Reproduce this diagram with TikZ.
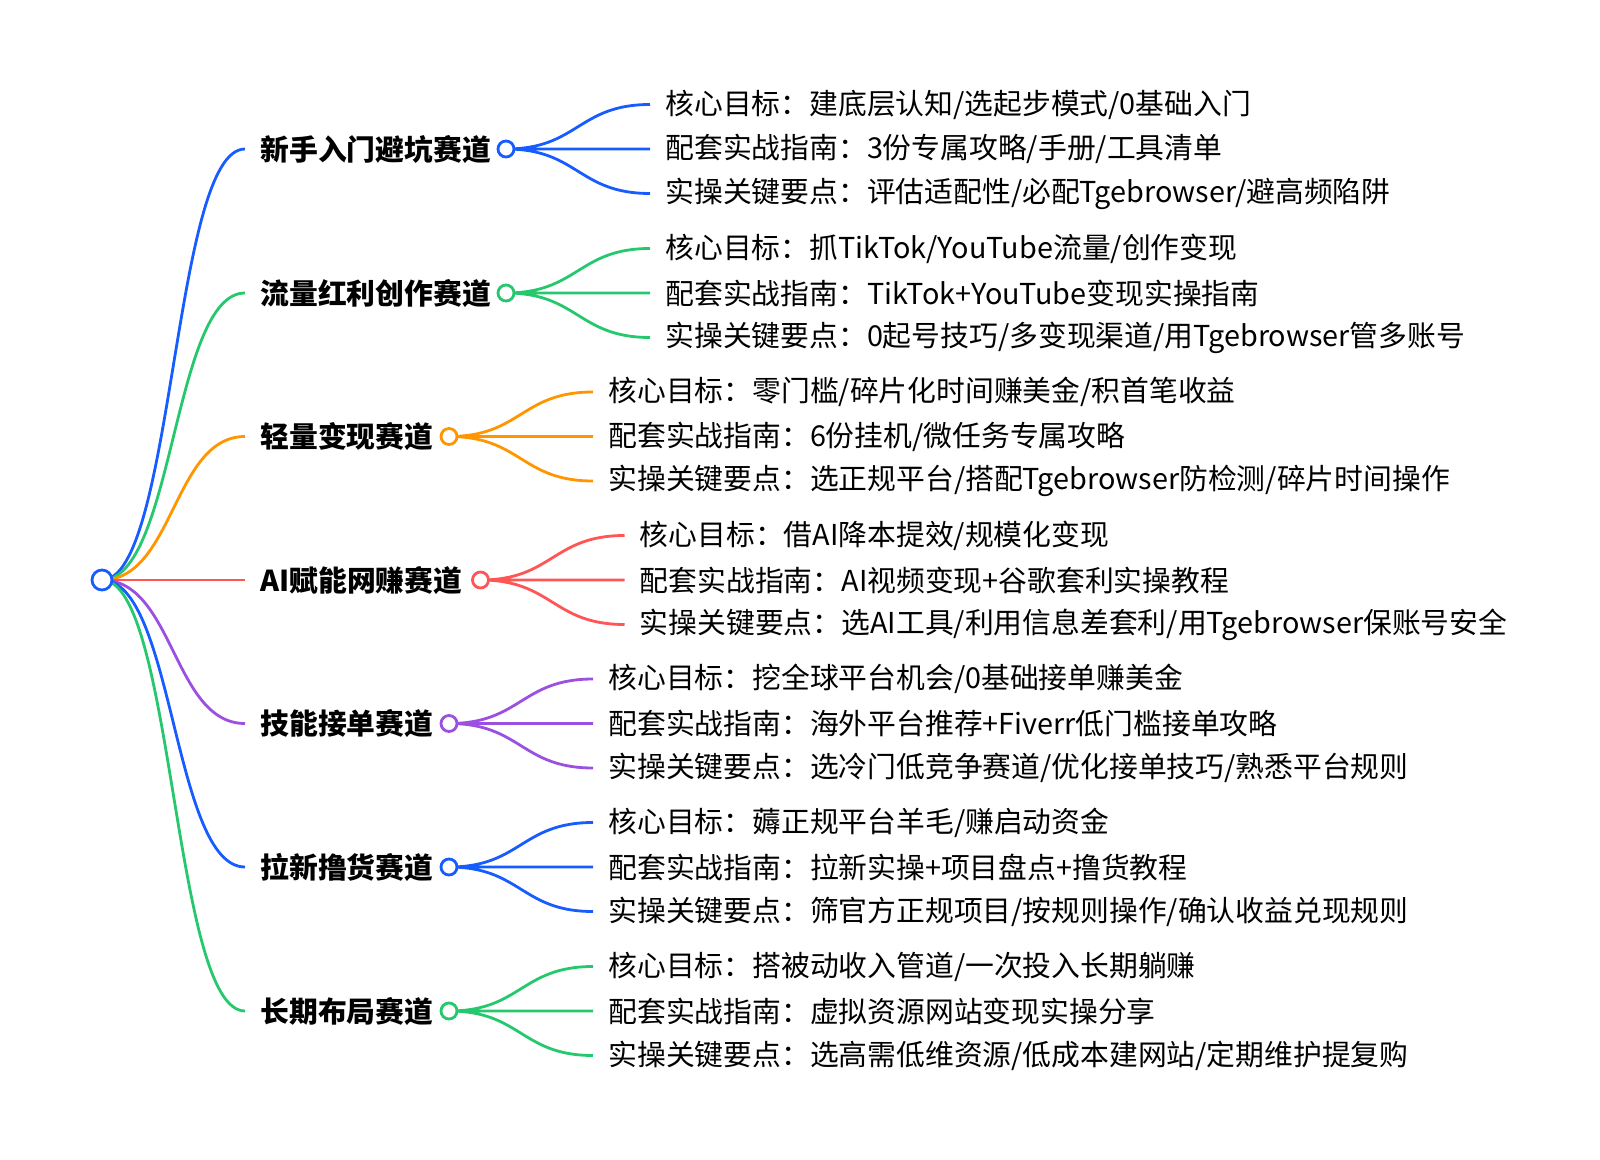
\documentclass[tikz,border=0pt]{standalone}
\usepackage{fontspec}
\setmainfont{Noto Sans CJK SC}
\usepackage{tikz}
\definecolor{mapblue}{RGB}{22,92,255}
\definecolor{mapgreen}{RGB}{38,200,110}
\definecolor{maporange}{RGB}{255,150,0}
\definecolor{mapred}{RGB}{255,85,85}
\definecolor{mappurple}{RGB}{155,80,225}
\pgfdeclarelayer{bg}
\pgfsetlayers{bg,main}

\begin{document}
\begin{tikzpicture}[x=0.5pt,y=-0.5pt,font=\fontsize{14.4pt}{17pt}\selectfont,
  track/.style={anchor=west,inner xsep=7.5pt,inner ysep=0pt,font=\fontsize{14.4pt}{17pt}\selectfont\bfseries},
  item/.style={anchor=west,inner xsep=7.5pt,inner ysep=0pt},
  dot/.style={circle,draw=#1,fill=white,line width=1.4pt,minimum size=8pt,inner sep=0pt},
  wire/.style={draw=#1,line width=1.4pt},
  link/.style={out=0,in=180,out distance=36pt,in distance=36pt}]

    \useasboundingbox (0,0) rectangle (1600,1160);

    \node (root) at (102,580)[dot=mapblue,minimum size=10pt] {};

    \node (t1) at (245,149)[track] {新手入门避坑赛道};
    \node (c1) at (506,149)[dot=mapblue] {};
    \node (l11) at (650,104.5)[item] {核心目标：建底层认知/选起步模式/0基础入门};
    \node (l12) at (650,149)[item] {配套实战指南：3份专属攻略/手册/工具清单};
    \node (l13) at (650,193.5)[item] {实操关键要点：评估适配性/必配Tgebrowser/避高频陷阱};

    \node (t2) at (245,293)[track] {流量红利创作赛道};
    \node (c2) at (506,293)[dot=mapgreen] {};
    \node (l21) at (650,248.5)[item] {核心目标：抓TikTok/YouTube流量/创作变现};
    \node (l22) at (650,293)[item] {配套实战指南：TikTok+YouTube变现实操指南};
    \node (l23) at (650,337.5)[item] {实操关键要点：0起号技巧/多变现渠道/用Tgebrowser管多账号};

    \node (t3) at (245,436.5)[track] {轻量变现赛道};
    \node (c3) at (449,436.5)[dot=maporange] {};
    \node (l31) at (593,392)[item] {核心目标：零门槛/碎片化时间赚美金/积首笔收益};
    \node (l32) at (593,436.5)[item] {配套实战指南：6份挂机/微任务专属攻略};
    \node (l33) at (593,481)[item] {实操关键要点：选正规平台/搭配Tgebrowser防检测/碎片时间操作};

    \node (t4) at (245,580)[track] {AI赋能网赚赛道};
    \node (c4) at (480.5,580)[dot=mapred] {};
    \node (l41) at (624.5,535.5)[item] {核心目标：借AI降本提效/规模化变现};
    \node (l42) at (624.5,580)[item] {配套实战指南：AI视频变现+谷歌套利实操教程};
    \node (l43) at (624.5,624.5)[item] {实操关键要点：选AI工具/利用信息差套利/用Tgebrowser保账号安全};

    \node (t5) at (245,723.5)[track] {技能接单赛道};
    \node (c5) at (449,723.5)[dot=mappurple] {};
    \node (l51) at (593,679)[item] {核心目标：挖全球平台机会/0基础接单赚美金};
    \node (l52) at (593,723.5)[item] {配套实战指南：海外平台推荐+Fiverr低门槛接单攻略};
    \node (l53) at (593,768)[item] {实操关键要点：选冷门低竞争赛道/优化接单技巧/熟悉平台规则};

    \node (t6) at (245,867)[track] {拉新撸货赛道};
    \node (c6) at (449,867)[dot=mapblue] {};
    \node (l61) at (593,822.5)[item] {核心目标：薅正规平台羊毛/赚启动资金};
    \node (l62) at (593,867)[item] {配套实战指南：拉新实操+项目盘点+撸货教程};
    \node (l63) at (593,911.5)[item] {实操关键要点：筛官方正规项目/按规则操作/确认收益兑现规则};

    \node (t7) at (245,1011)[track] {长期布局赛道};
    \node (c7) at (449,1011)[dot=mapgreen] {};
    \node (l71) at (593,966.5)[item] {核心目标：搭被动收入管道/一次投入长期躺赚};
    \node (l72) at (593,1011)[item] {配套实战指南：虚拟资源网站变现实操分享};
    \node (l73) at (593,1055.5)[item] {实操关键要点：选高需低维资源/低成本建网站/定期维护提复购};

    \begin{pgfonlayer}{bg}
    \draw [wire=mapblue] (root.center) to[link] (t1.west);
    \draw [wire=mapgreen] (root.center) to[link] (t2.west);
    \draw [wire=maporange] (root.center) to[link] (t3.west);
    \draw [wire=mapred] (root.center) to[link] (t4.west);
    \draw [wire=mappurple] (root.center) to[link] (t5.west);
    \draw [wire=mapblue] (root.center) to[link] (t6.west);
    \draw [wire=mapgreen] (root.center) to[link] (t7.west);
    \draw [wire=mapblue] (c1.center) to[link] (l11.west) (c1.center) to (l12.west) (c1.center) to[link] (l13.west);
    \draw [wire=mapgreen] (c2.center) to[link] (l21.west) (c2.center) to (l22.west) (c2.center) to[link] (l23.west);
    \draw [wire=maporange] (c3.center) to[link] (l31.west) (c3.center) to (l32.west) (c3.center) to[link] (l33.west);
    \draw [wire=mapred] (c4.center) to[link] (l41.west) (c4.center) to (l42.west) (c4.center) to[link] (l43.west);
    \draw [wire=mappurple] (c5.center) to[link] (l51.west) (c5.center) to (l52.west) (c5.center) to[link] (l53.west);
    \draw [wire=mapblue] (c6.center) to[link] (l61.west) (c6.center) to (l62.west) (c6.center) to[link] (l63.west);
    \draw [wire=mapgreen] (c7.center) to[link] (l71.west) (c7.center) to (l72.west) (c7.center) to[link] (l73.west);
    \end{pgfonlayer}
\end{tikzpicture}
\end{document}
